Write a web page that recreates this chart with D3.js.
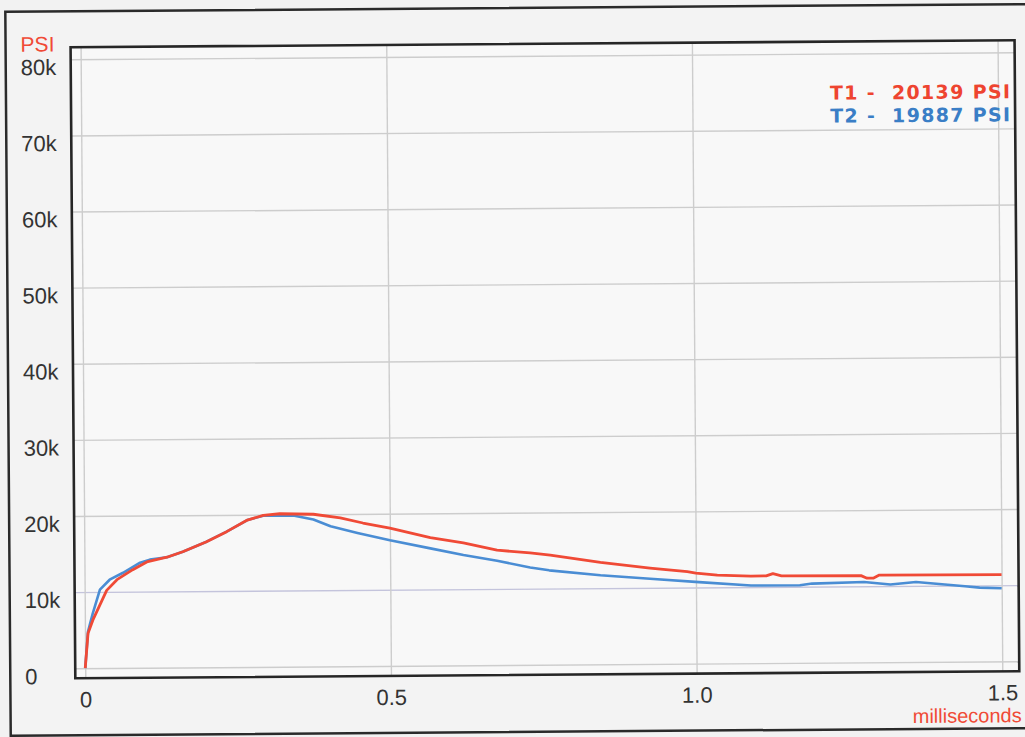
<!DOCTYPE html>
<html>
<head>
<meta charset="utf-8">
<script src="https://cdn.jsdelivr.net/npm/d3@7"></script>
<style>
  html, body { margin: 0; padding: 0; background: #f2f2f2; }
  svg { display: block; }
  text { white-space: pre; }
</style>
</head>
<body>
<svg id="chart" width="1025" height="737"></svg>
<script>
// ---- data (time in ms, pressure in kPSI) ----
const timeT1 = [0, 0.005, 0.013, 0.036, 0.053, 0.079, 0.102, 0.135, 0.161, 0.2, 0.233, 0.267, 0.293, 0.32, 0.375, 0.419, 0.456, 0.5, 0.566, 0.62, 0.675, 0.729, 0.762, 0.844, 0.925, 0.986, 1.0, 1.035, 1.09, 1.115, 1.126, 1.14, 1.27, 1.28, 1.29, 1.3, 1.5];
const psiT1  = [0, 4.6, 6.3, 10.2, 11.6, 12.9, 13.9, 14.5, 15.2, 16.5, 17.8, 19.3, 19.9, 20.1, 20.0, 19.5, 18.8, 18.1, 16.8, 16.1, 15.1, 14.7, 14.4, 13.4, 12.6, 12.1, 11.9, 11.6, 11.45, 11.45, 11.75, 11.45, 11.4, 11.05, 11.05, 11.45, 11.4];

const timeT2 = [0, 0.005, 0.013, 0.025, 0.041, 0.063, 0.091, 0.107, 0.135, 0.161, 0.2, 0.233, 0.267, 0.293, 0.342, 0.375, 0.403, 0.447, 0.5, 0.566, 0.62, 0.675, 0.729, 0.76, 0.844, 0.925, 1.005, 1.09, 1.17, 1.19, 1.275, 1.318, 1.36, 1.44, 1.464, 1.5];
const psiT2  = [0, 4.8, 7.2, 10.3, 11.6, 12.5, 13.8, 14.2, 14.5, 15.2, 16.5, 17.8, 19.3, 19.85, 19.85, 19.3, 18.4, 17.5, 16.5, 15.4, 14.5, 13.7, 12.8, 12.4, 11.7, 11.2, 10.7, 10.2, 10.2, 10.4, 10.55, 10.2, 10.5, 9.9, 9.7, 9.6];

const yTicks = [0, 10, 20, 30, 40, 50, 60, 70, 80];
const yTickLabels = ["0", "10k", "20k", "30k", "40k", "50k", "60k", "70k", "80k"];
const xTicks = [0, 0.5, 1.0, 1.5];
const xTickLabels = ["0", "0.5", "1.0", "1.5"];

const legendLabels = ["T1 -  20139 PSI", "T2 -  19887 PSI"];
const yUnit = "PSI";
const xUnit = "milliseconds";

// ---- layout ----
const box = { left: 73, top: 44, right: 1017, bottom: 675 };
const redC = "#f04a36", blueC = "#4a8dd4";

const svg = d3.select("#chart");
const root = svg.append("g").attr("transform", "rotate(-0.43 512 368)");

// outer frame
root.append("rect").attr("x", 8).attr("y", 8).attr("width", 1060).attr("height", 724)
  .attr("fill", "#f3f3f3").attr("stroke", "#2a2a2a").attr("stroke-width", 2.5);

// plot box background
root.append("rect").attr("x", box.left).attr("y", box.top)
  .attr("width", box.right - box.left).attr("height", box.bottom - box.top)
  .attr("fill", "#f8f8f8");

const x = d3.scaleLinear().domain([0, 1.5]).range([83, 1000]);
const y = d3.scaleLinear().domain([0, 80]).range([665, 56]);

// y grid + labels
const yAxis = d3.axisLeft(y).tickValues(yTicks)
  .tickSize(-(box.right - box.left))
  .tickFormat((d, i) => yTickLabels[i]);
const gy = root.append("g").attr("transform", `translate(${box.left},0)`).call(yAxis);
gy.select(".domain").remove();
gy.selectAll(".tick line").attr("stroke", (d) => d === 10 ? "#c4c4dc" : "#cdcdcd").attr("stroke-width", 1.4);
gy.selectAll(".tick text")
  .attr("x", 23 - box.left).attr("dy", 0).attr("y", 15)
  .attr("text-anchor", "start")
  .attr("fill", "#333").attr("font-family", "Liberation Sans, Arial, sans-serif")
  .attr("font-size", 22);

// x grid + labels
const xAxis = d3.axisBottom(x).tickValues(xTicks)
  .tickSize(-(box.bottom - box.top))
  .tickFormat((d, i) => xTickLabels[i]);
const gx = root.append("g").attr("transform", `translate(0,${box.bottom})`).call(xAxis);
gx.select(".domain").remove();
gx.selectAll(".tick line").attr("stroke", "#cdcdcd").attr("stroke-width", 1.4);
gx.selectAll(".tick text")
  .attr("y", 29).attr("dy", 0)
  .attr("fill", "#333").attr("font-family", "Liberation Sans, Arial, sans-serif")
  .attr("font-size", 22);

// plot box border
root.append("rect").attr("x", box.left).attr("y", box.top)
  .attr("width", box.right - box.left).attr("height", box.bottom - box.top)
  .attr("fill", "none").attr("stroke", "#262626").attr("stroke-width", 2.6);

// lines
const line = d3.line().x(d => x(d[0])).y(d => y(d[1])).curve(d3.curveLinear);
const dataT1 = timeT1.map((t, i) => [t, psiT1[i]]);
const dataT2 = timeT2.map((t, i) => [t, psiT2[i]]);

root.append("path").datum(dataT2).attr("d", line)
  .attr("fill", "none").attr("stroke", blueC).attr("stroke-width", 2.6).attr("stroke-linejoin", "round");
root.append("path").datum(dataT1).attr("d", line)
  .attr("fill", "none").attr("stroke", redC).attr("stroke-width", 2.8).attr("stroke-linejoin", "round");

// unit labels
root.append("text").attr("x", 23).attr("y", 48).text(yUnit)
  .attr("fill", "#f04a36").attr("font-family", "Liberation Sans, Arial, sans-serif").attr("font-size", 21);
root.append("text").attr("x", 1019).attr("y", 726).attr("text-anchor", "end").text(xUnit)
  .attr("fill", "#f04a36").attr("font-family", "Liberation Sans, Arial, sans-serif").attr("font-size", 20);

// legend
const legColors = ["#ee4430", "#3a7ec6"];
legendLabels.forEach((lab, i) => {
  root.append("text")
    .attr("x", 1012).attr("y", 102 + i * 23)
    .attr("text-anchor", "end")
    .attr("font-family", "DejaVu Sans, sans-serif").attr("font-weight", "bold")
    .attr("font-size", 19)
    .attr("textLength", 180).attr("lengthAdjust", "spacing")
    .attr("fill", legColors[i])
    .text(lab);
});
</script>
</body>
</html>
